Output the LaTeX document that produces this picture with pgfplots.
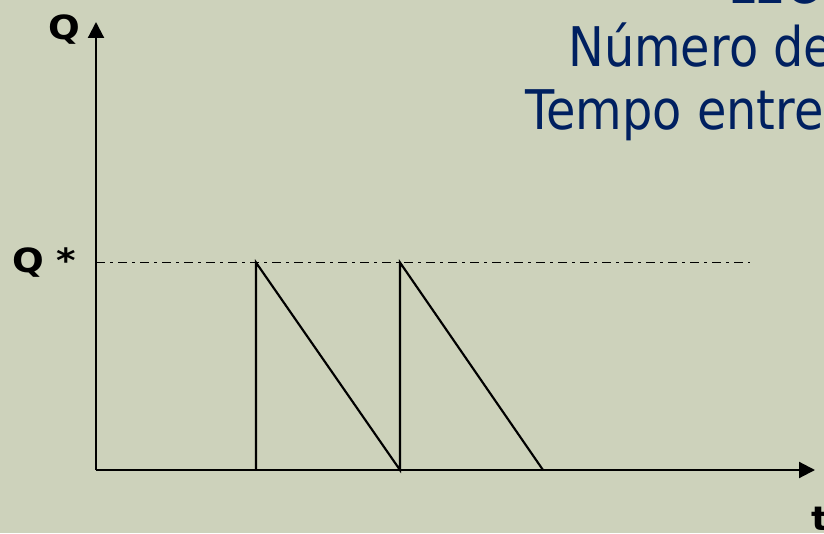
\documentclass[border=0pt]{standalone}
\usepackage{pgfplots}
\pgfplotsset{compat=1.18}
\usepackage{fontspec}
\setmainfont{DejaVu Sans}
\newfontfamily\titlefont[FakeStretch=0.875]{DejaVu Sans}
\newfontfamily\labelfont[FakeStretch=1.12]{DejaVu Sans Bold}
\usetikzlibrary{arrows.meta}
\definecolor{bg}{RGB}{205,210,187}
\definecolor{navy}{RGB}{0,32,96}
\begin{document}
\begin{tikzpicture}[x=0.75pt,y=0.75pt]
\useasboundingbox (0,0) rectangle (824,533);
\clip (0,0) rectangle (824,533);
\fill[bg] (0,0) rectangle (824,533);
% title lines, cut off at the right edge
\begin{scope}[every node/.style={inner sep=0pt, anchor=base west, text=navy}]
\node at (728,529) {\titlefont\fontsize{41}{49}\selectfont LEC};
\node at (568,466) {\titlefont\fontsize{41}{49}\selectfont Número de};
\node at (525,403) {\titlefont\fontsize{41}{49}\selectfont Tempo entre};
\end{scope}
\begin{scope}[every node/.style={inner sep=0pt, anchor=base west}]
\node at (48,493) {\labelfont\fontsize{25}{29}\selectfont Q};
\node at (12,261) {\labelfont\fontsize{25}{29}\selectfont Q *};
\node at (811,3) {\labelfont\fontsize{25}{29}\selectfont t};
\end{scope}
\begin{axis}[
    at={(96,63)}, anchor=south west,
    scale only axis,
    width=539.25pt, height=336pt,
    xmin=0, xmax=719, ymin=0, ymax=448,
    axis lines=left,
    axis line style={line width=1.6pt, -{Triangle[length=12pt,width=12pt]}},
    xtick=\empty, ytick=\empty,
    clip=false
]
% Q* level
\addplot[black, line width=1.2pt, dash pattern=on 6.75pt off 3.75pt on 2.25pt off 3.75pt]
  coordinates {(0,207.5) (654,207.5)};
% stock cycles
\addplot[black, line width=1.6pt]
  coordinates {(160,0) (160,207.5) (304,0) (304,207.5) (447,0)};
\end{axis}
\end{tikzpicture}
\end{document}
